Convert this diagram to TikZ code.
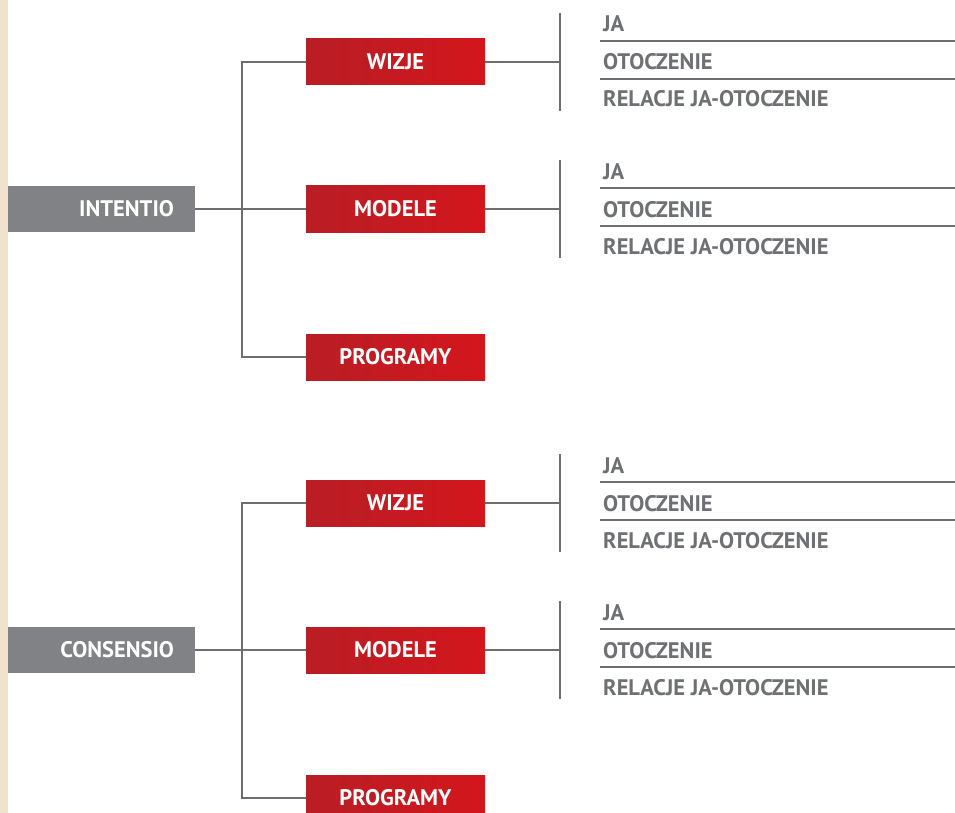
\documentclass[tikz,border=0pt]{standalone}
\usepackage{fontspec}
\setmainfont{PT Sans}
\usetikzlibrary{positioning}

\definecolor{beige}{HTML}{F1E2CB}
\definecolor{boxgray}{HTML}{818285}
\definecolor{linegray}{HTML}{6D6E71}
\definecolor{itemgray}{HTML}{6F7073}
\definecolor{redL}{HTML}{B81E25}
\definecolor{redR}{HTML}{D3161C}

\begin{document}
\begin{tikzpicture}[x=1pt,y=-1pt]
	\tikzstyle{every node}=[font=\bfseries\fontsize{22.5}{26}\selectfont]
	\tikzstyle{mainbox}=[fill=boxgray, text=white, minimum width=187pt, minimum height=46pt, inner xsep=21pt, inner ysep=0pt, text width=145pt, align=right]
	\tikzstyle{redbox}=[left color=redL, right color=redR, text=white, minimum width=179pt, minimum height=46pt, inner sep=0pt]
	\tikzstyle{item}=[anchor=base west, text=itemgray, inner sep=0pt]
	\tikzstyle{conn}=[draw=linegray, line width=2.5pt]
	\tikzstyle{sep}=[draw=linegray, line width=1.5pt]

	\useasboundingbox (0,0) rectangle (955,813);
	\fill [beige] (0,0) rectangle (8,813);

	%% INTENTIO
	\node [mainbox] (intentio) at (101.5,209) {INTENTIO};
	\node [redbox] (iwizje) at (395.5,62) {WIZJE};
	\node [redbox] (imodele) at (395.5,209) {MODELE};
	\node [redbox] (iprogramy) at (395.5,357) {PROGRAMY};
	\coordinate (itrunk) at (242,209);
	\draw [conn] (intentio) -- (imodele);
	\draw [conn] (iwizje.west) -| (itrunk) |- (iprogramy.west);

	\coordinate (iwbar) at (560,62);
	\draw [conn] (iwizje) -- (iwbar);
	\draw [conn] (560,13) -- (560,111);
	\node [item] (iwja) at (603,32) {JA};
	\node [item] (iwot) at (603,70) {OTOCZENIE};
	\node [item] (iwrel) at (603,107) {RELACJE JA-OTOCZENIE};
	\draw [sep] (600,41) -- (955,41);
	\draw [sep] (600,79) -- (955,79);

	\coordinate (imbar) at (560,209);
	\draw [conn] (imodele) -- (imbar);
	\draw [conn] (560,160) -- (560,258);
	\node [item] (imja) at (603,179) {JA};
	\node [item] (imot) at (603,217) {OTOCZENIE};
	\node [item] (imrel) at (603,254) {RELACJE JA-OTOCZENIE};
	\draw [sep] (600,188) -- (955,188);
	\draw [sep] (600,226) -- (955,226);

	%% CONSENSIO
	\node [mainbox] (consensio) at (101.5,650) {CONSENSIO};
	\node [redbox] (cwizje) at (395.5,503) {WIZJE};
	\node [redbox] (cmodele) at (395.5,650) {MODELE};
	\node [redbox] (cprogramy) at (395.5,798) {PROGRAMY};
	\coordinate (ctrunk) at (242,650);
	\draw [conn] (consensio) -- (cmodele);
	\draw [conn] (cwizje.west) -| (ctrunk) |- (cprogramy.west);

	\coordinate (cwbar) at (560,503);
	\draw [conn] (cwizje) -- (cwbar);
	\draw [conn] (560,454) -- (560,552);
	\node [item] (cwja) at (603,473) {JA};
	\node [item] (cwot) at (603,511) {OTOCZENIE};
	\node [item] (cwrel) at (603,548) {RELACJE JA-OTOCZENIE};
	\draw [sep] (600,482) -- (955,482);
	\draw [sep] (600,520) -- (955,520);

	\coordinate (cmbar) at (560,650);
	\draw [conn] (cmodele) -- (cmbar);
	\draw [conn] (560,601) -- (560,699);
	\node [item] (cmja) at (603,620) {JA};
	\node [item] (cmot) at (603,658) {OTOCZENIE};
	\node [item] (cmrel) at (603,695) {RELACJE JA-OTOCZENIE};
	\draw [sep] (600,629) -- (955,629);
	\draw [sep] (600,667) -- (955,667);

\end{tikzpicture}
\end{document}
